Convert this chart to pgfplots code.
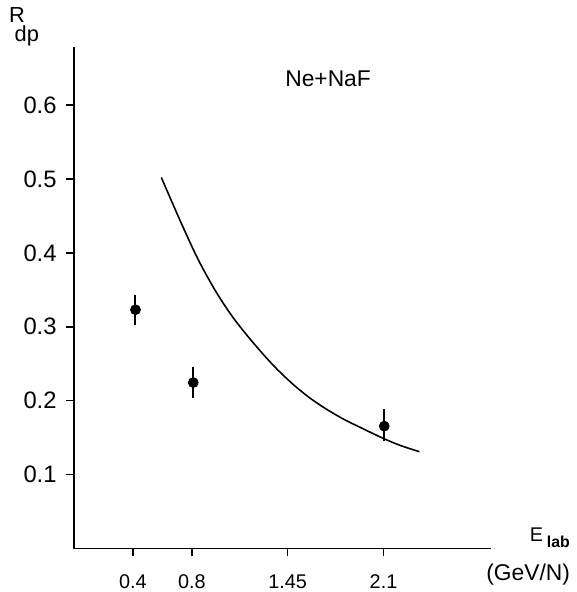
\documentclass[border=0pt]{standalone}
\usepackage{fontspec}
\setmainfont{Liberation Sans}
\usepackage{pgfplots}
\pgfplotsset{compat=1.18}

\begin{document}
\begin{tikzpicture}
\begin{axis}[name=ax,
  scale only axis, width=210.25pt, height=253.25pt,
  xmin=0, xmax=2.826, ymin=0, ymax=0.679,
  axis lines=left, axis line style={-, line width=0.8pt},
  tick align=outside, major tick length=4pt,
  tick style={line width=0.8pt, black},
  xtick={0.4,0.8,1.45,2.1}, xticklabels={0.4,0.8,1.45,2.1},
  ytick={0.1,0.2,0.3,0.4,0.5,0.6}, yticklabels={0.1,0.2,0.3,0.4,0.5,0.6},
  ticklabel style={inner sep=0pt},
  yticklabel style={font=\fontsize{12}{14}\selectfont, anchor=east, xshift=-4.5pt},
  xticklabel style={font=\fontsize{10}{12}\selectfont, yshift=-9pt},
  /pgf/number format/assume math mode=true,
  clip=false]
% theory curve
\addplot[black, line width=0.8pt, smooth, no markers] coordinates {
  (0.593,0.502) (0.731,0.439) (0.843,0.391) (0.956,0.350) (1.067,0.316)
  (1.180,0.287) (1.292,0.261) (1.381,0.242) (1.493,0.221) (1.605,0.203)
  (1.717,0.188) (1.829,0.175) (1.941,0.164) (2.098,0.149) (2.220,0.139)
  (2.344,0.131)};
% data
\addplot[black, only marks, mark=*, mark size=2.5pt,
  error bars/.cd, y dir=both, y explicit, error mark=none,
  error bar style={line width=1pt}] coordinates {
  (0.418,0.323) +- (0,0.020)
  (0.81,0.2245) +- (0,0.021)
  (2.105,0.1656) += (0,0.023) -= (0,0.020)};
\node[font=\fontsize{11.5}{13}\selectfont] at (axis cs:1.724,0.636) {Ne+NaF};
\node[font=\fontsize{11}{13}\selectfont, inner sep=0pt] at (axis cs:-0.386,0.7215) {R};
\node[font=\fontsize{11}{13}\selectfont, inner sep=0pt] at (axis cs:-0.319,0.6930) {dp};
\node[font=\fontsize{10}{12}\selectfont] at (axis cs:3.138,0.0188) {E};
\node[font=\fontsize{8}{9}\selectfont\bfseries] at (axis cs:3.286,0.0094) {lab};
\node[font=\fontsize{11.5}{13}\selectfont] at (axis cs:3.081,-0.0355) {(GeV/N)};
\end{axis}
\path[use as bounding box] ([shift={(-37.25pt,-19.25pt)}]ax.south west) rectangle ([shift={(42.5pt,23.5pt)}]ax.north east);
\end{tikzpicture}
\end{document}
